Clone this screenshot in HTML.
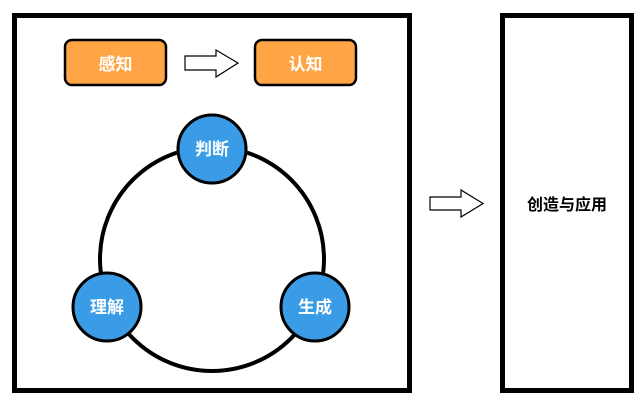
<!DOCTYPE html>
<html><head><meta charset="utf-8"><style>
html,body{margin:0;padding:0;background:#fff;}
svg{display:block}
text{font-family:"Liberation Sans","Noto Sans CJK SC",sans-serif;font-weight:bold;}
</style></head><body>
<svg width="640" height="401" viewBox="0 0 640 401" xmlns="http://www.w3.org/2000/svg">
<rect x="14.5" y="15.5" width="395" height="375" fill="#fff" stroke="#000" stroke-width="5"/>
<rect x="502.5" y="15.5" width="129" height="375" fill="#fff" stroke="#000" stroke-width="5"/>
<rect x="65" y="40" width="101" height="45" rx="7" fill="#FFA545" stroke="#000" stroke-width="2.5"/>
<rect x="255" y="40" width="101" height="45" rx="7" fill="#FFA545" stroke="#000" stroke-width="2.5"/>
<text x="115.5" y="70" font-size="17" fill="#fff" text-anchor="middle">感知</text>
<text x="305.5" y="70" font-size="17" fill="#fff" text-anchor="middle">认知</text>
<polygon points="185,56 216,56 216,50 238,63 216,77 216,70 185,70" fill="#fff" stroke="#000" stroke-width="1.2"/>
<polygon points="430,197 461,197 461,190 483,203.5 461,217 461,210 430,210" fill="#fff" stroke="#000" stroke-width="1.2"/>
<circle cx="212" cy="259" r="112" fill="none" stroke="#000" stroke-width="4"/>
<g stroke="#000" stroke-width="3" fill="#3A9CE6">
<circle cx="212" cy="149" r="34"/>
<circle cx="107" cy="307" r="34"/>
<circle cx="315" cy="307" r="34"/>
</g>
<g fill="#fff" font-size="17" text-anchor="middle">
<text x="212" y="155">判断</text>
<text x="107" y="313">理解</text>
<text x="315" y="313">生成</text>
</g>
<text x="567" y="210" font-size="16" fill="#000" text-anchor="middle">创造与应用</text>
</svg>
</body></html>
